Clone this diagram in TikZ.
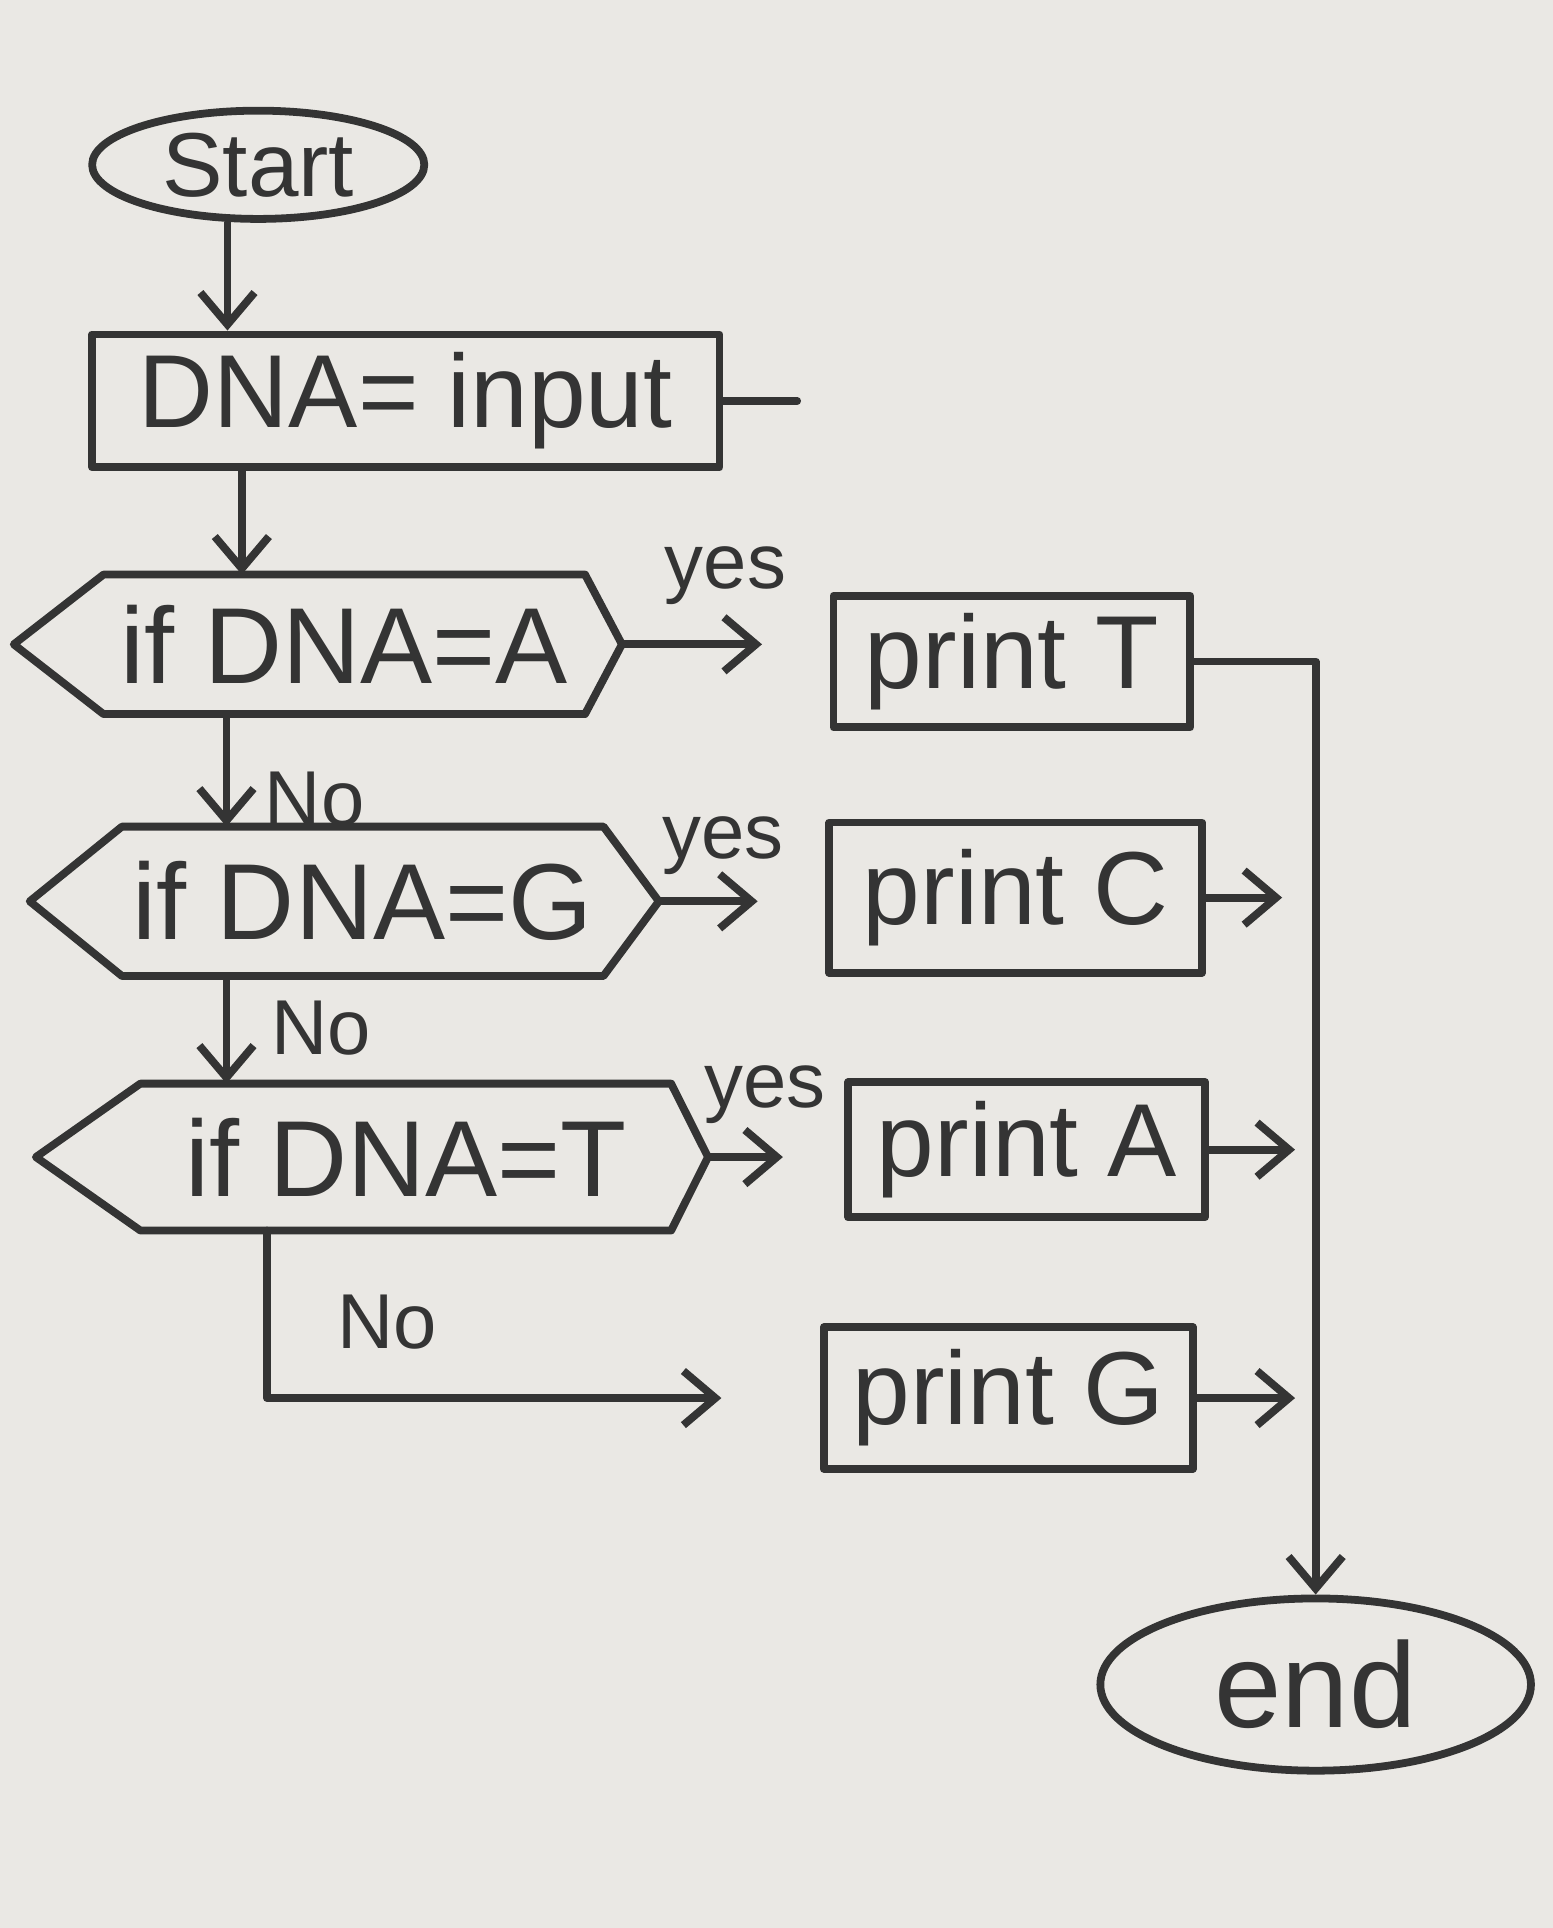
\documentclass[tikz,border=0pt]{standalone}
\usepackage{fontspec}
\setmainfont{Liberation Sans}
\usetikzlibrary{shapes.geometric,arrows.meta,calc}
\definecolor{inkc}{RGB}{52,52,52}
\definecolor{paper}{RGB}{234,232,228}
\begin{document}
\begin{tikzpicture}[x=0.01cm,y=-0.01cm,
  ink/.style={draw=inkc,line width=1.8pt,line join=round,line cap=round},
  bigtext/.style={font=\fontsize{24}{28}\selectfont,text=inkc},
  term/.style={ellipse,ink,inner sep=0pt,bigtext},
  procbox/.style={rectangle,ink,inner sep=0pt,bigtext},
  hexbody/.style={rectangle,draw=none,inner sep=0pt,font=\fontsize{25}{29}\selectfont,text=inkc},
  lbl/.style={font=\fontsize{18}{20}\selectfont,text=inkc},
  arr/.style={ink,-{Straight Barb[length=2.6mm,width=4.4mm]}},
  conn/.style={ink}
]
\fill[paper] (0,0) rectangle (1263,1568);
\useasboundingbox (0,0) rectangle (1263,1568);

% terminals
\node[term,minimum width=2.7cm,minimum height=0.88cm,font=\fontsize{21}{25}\selectfont] (start) at (210,134) {Start};
\node[term,minimum width=3.5cm,minimum height=1.4cm,font=\fontsize{28}{32}\selectfont] (end) at (1070,1370) {end};

% process boxes
\node[procbox,minimum width=5.1cm,minimum height=1.08cm] (input) at (330,326) {DNA= input};
\node[procbox,minimum width=2.9cm,minimum height=1.07cm] (printT) at (823,538) {print T};
\node[procbox,minimum width=3.03cm,minimum height=1.22cm] (printC) at (826,730) {print C};
\node[procbox,minimum width=2.9cm,minimum height=1.1cm] (printA) at (835,935) {print A};
\node[procbox,minimum width=3.0cm,minimum height=1.15cm] (printG) at (820,1137) {print G};

% decisions (hexagons)
\node[hexbody,minimum width=3.9cm,minimum height=1.12cm] (if1) at (280,524) {if DNA=A};
\node[hexbody,minimum width=3.9cm,minimum height=1.2cm] (if2) at (295,733) {if DNA=G};
\node[hexbody,minimum width=4.3cm,minimum height=1.18cm] (if3) at (330,941) {if DNA=T};
\draw[ink] (if1.north west) -- ($(if1.west)+(-73,0)$) -- (if1.south west) -- (if1.south east) -- ($(if1.east)+(30,0)$) coordinate (if1R) -- (if1.north east) -- cycle;
\draw[ink] (if2.north west) -- ($(if2.west)+(-75,0)$) -- (if2.south west) -- (if2.south east) -- ($(if2.east)+(45,0)$) coordinate (if2R) -- (if2.north east) -- cycle;
\draw[ink] (if3.north west) -- ($(if3.west)+(-85,0)$) -- (if3.south west) -- (if3.south east) -- ($(if3.east)+(30,0)$) coordinate (if3R) -- (if3.north east) -- cycle;

% vertical flow
\path (start.south) ++(-25,0) coordinate (s1);
\draw[arr] (s1) -- (s1 |- input.north);
\path (input.south west) ++(125,0) coordinate (i1);
\draw[arr] (i1) -- (i1 |- if1.north);
\path (if1.south west) ++(100,0) coordinate (n1);
\draw[arr] (n1) -- (n1 |- if2.north);
\node[lbl,anchor=west] (no1) at (203,650) {No};
\path (if2.south west) ++(85,0) coordinate (n2);
\draw[arr] (n2) -- (n2 |- if3.north);
\node[lbl,anchor=west] (no2) at (208,836) {No};
\path (if3.south west) ++(103,0) coordinate (n3);
\draw[arr,shorten >=0.8cm] (n3) |- (printG.west);
\node[lbl,anchor=west] (no3) at (262,1075) {No};

% yes branches
\draw[arr,shorten >=0.55cm] (if1R) -- (if1R -| printT.west);
\node[lbl] (yes1) at (590,468) {yes};
\draw[arr,shorten >=0.55cm] (if2R) -- (if2R -| printC.west);
\node[lbl] (yes2) at (588,688) {yes};
\draw[arr,shorten >=0.5cm] (if3R) -- (if3R -| printA.west);
\node[lbl] (yes3) at (622,890) {yes};

% outputs
\draw[ink] (input.east) -- ++(60,0) coordinate (stub);
\draw[arr] (printT.east) -| (end.north);
\draw[arr] (printC.east) -- ++(62,0) coordinate (oC);
\draw[arr] (printA.east) -- ++(70,0) coordinate (oA);
\draw[arr] (printG.east) -- ++(80,0) coordinate (oG);
\end{tikzpicture}
\end{document}
